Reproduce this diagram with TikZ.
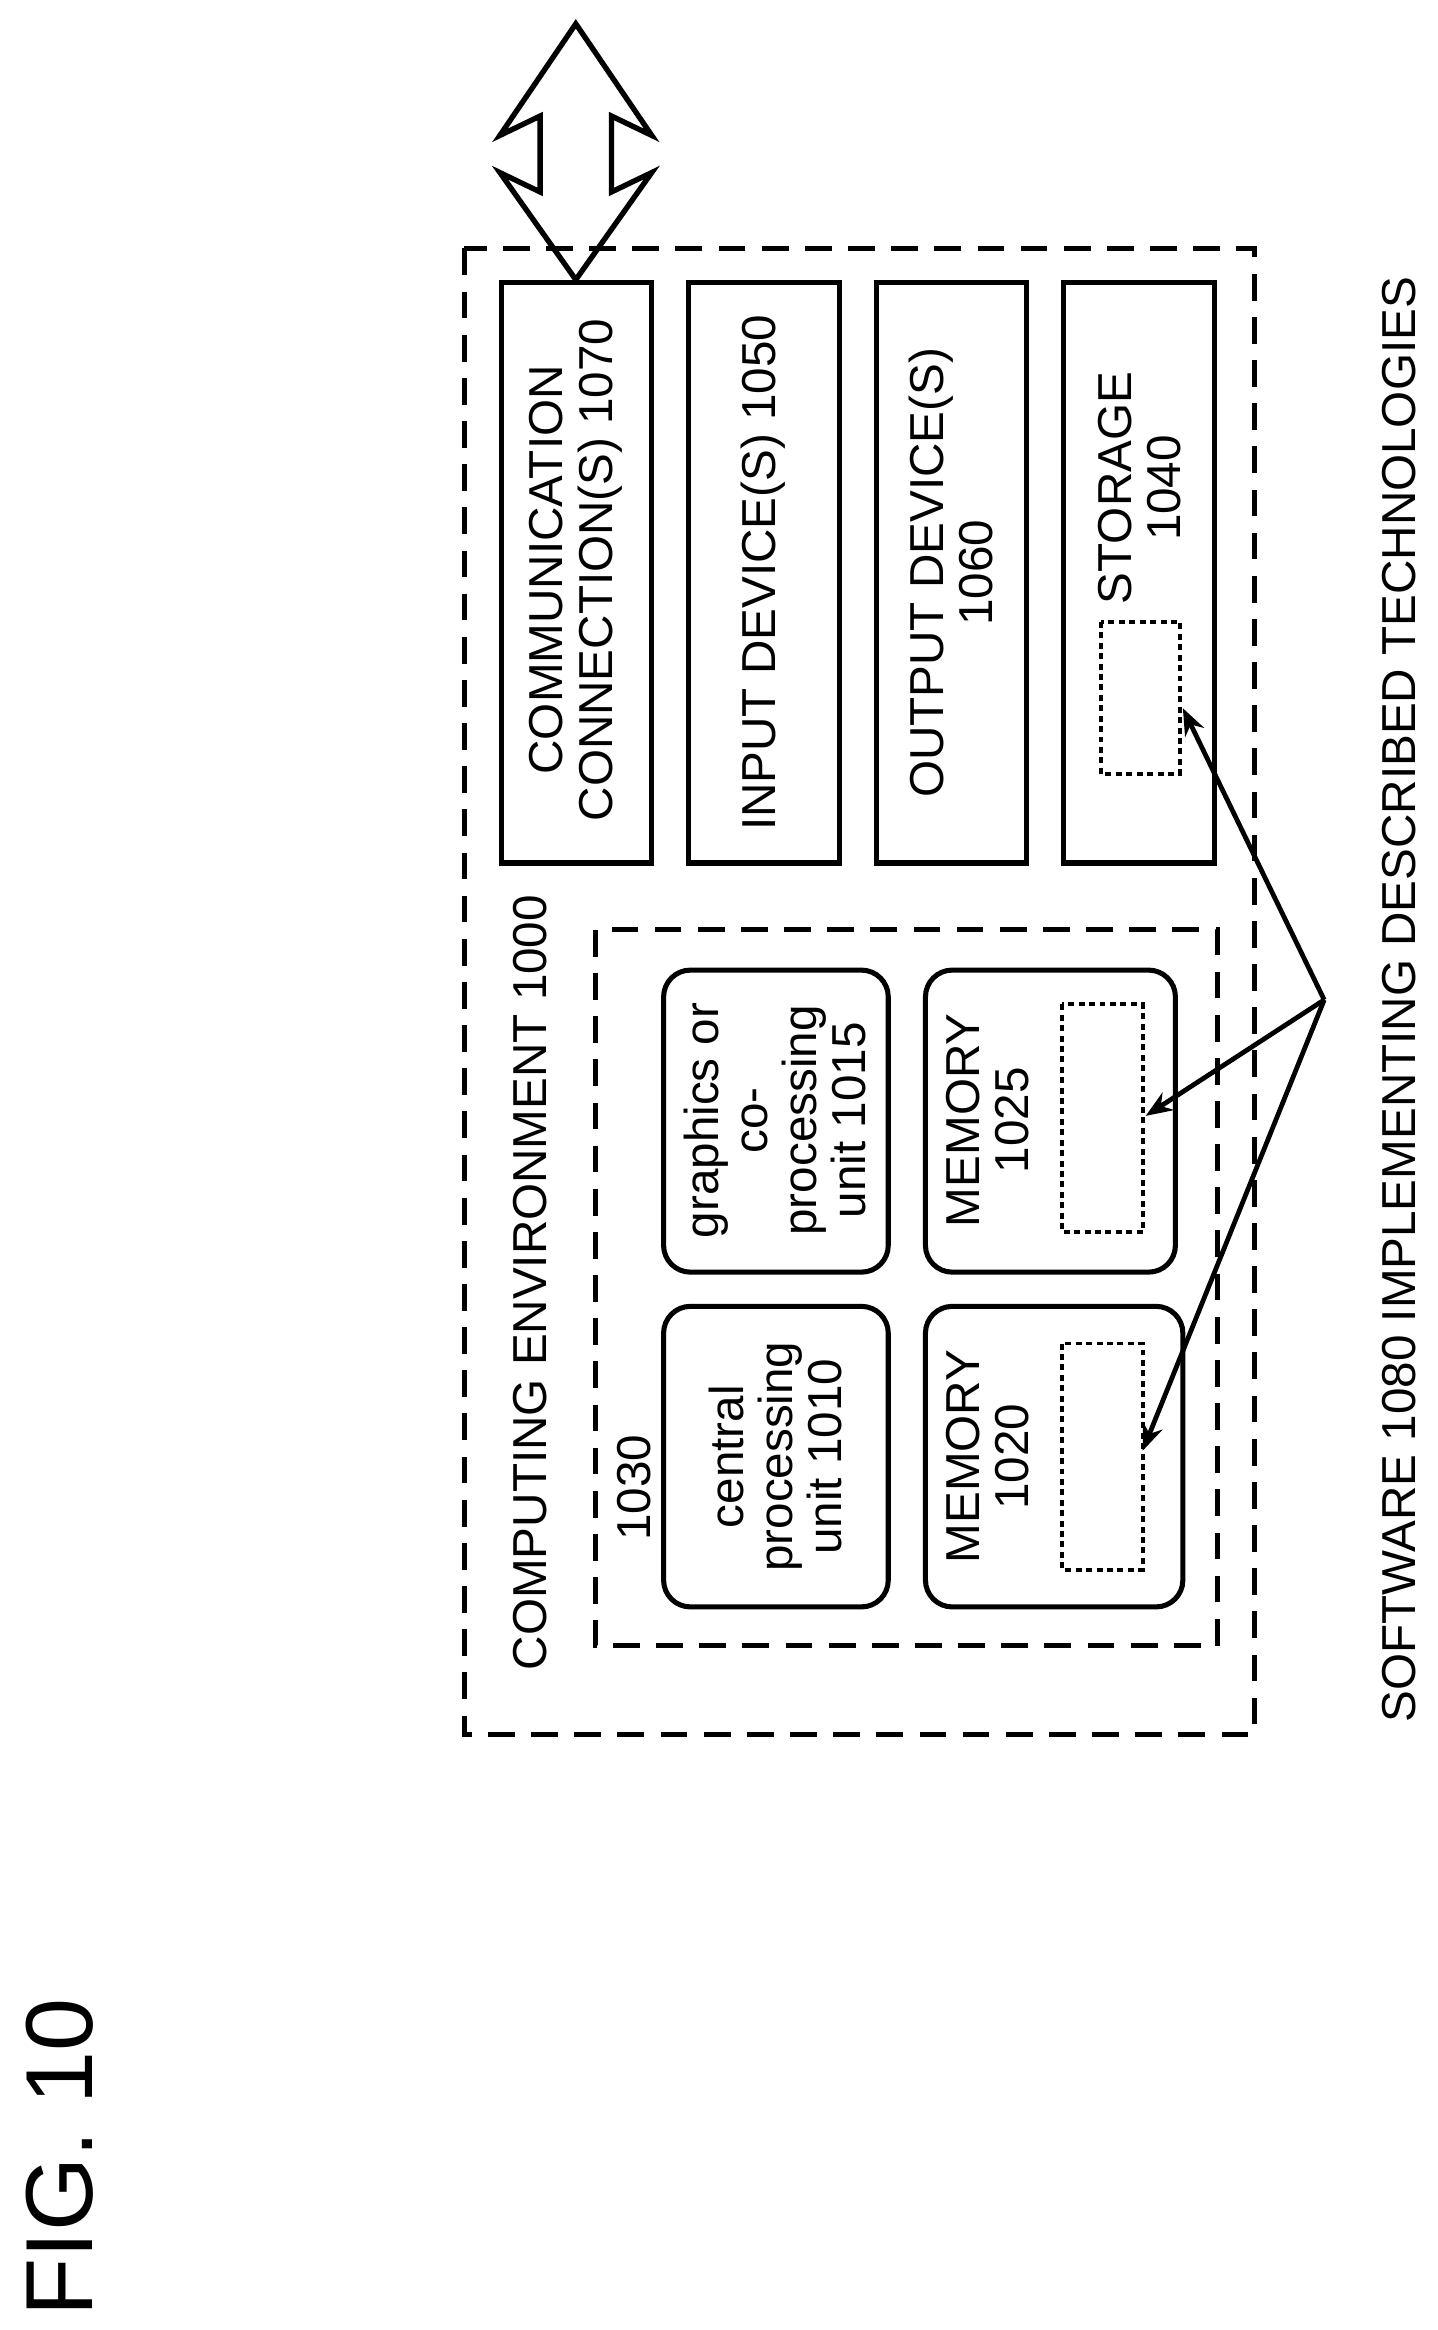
\documentclass[tikz,border=0pt]{standalone}
\usepackage{fontspec}
\setmainfont{Liberation Sans}
\usetikzlibrary{arrows.meta}
\tikzset{
  dashbox/.style={line width=3.4pt, dash pattern=on 18pt off 11pt},
  dotbox/.style={line width=2.6pt, dash pattern=on 4pt off 3pt},
  solidbox/.style={line width=3.4pt},
  roundbox/.style={line width=3.4pt, rounded corners=18pt},
  label/.style={rotate=90, align=center, font=\fontsize{32}{33}\selectfont},
  pointer/.style={line width=3.2pt, -{Stealth[length=18pt,width=14pt]}}
}
\begin{document}
\begin{tikzpicture}[x=1pt,y=-1pt]
    \useasboundingbox (0,0) rectangle (966,1566);

    %environment
    \draw[dashbox] (312,167) rectangle (843,1166);
    \node[label] (env) at (356,862) {COMPUTING ENVIRONMENT 1000};
    \draw[dashbox] (400,625) rectangle (818,1106);
    \node[label] (bus) at (426,1000) {1030};

    %processing units and memory
    \draw[roundbox] (446,878) rectangle (597,1080);
    \node[label] (cpu) at (521,979) {central\\processing\\unit 1010};
    \draw[roundbox] (446,652) rectangle (597,855);
    \node[label] (gpu) at (521,753) {graphics or\\co-\\processing\\unit 1015};
    \draw[roundbox] (622,878) rectangle (795,1080);
    \node[label] (memA) at (664,979) {MEMORY\\1020};
    \draw[dotbox] (714,903) rectangle (768,1055);
    \coordinate (swA) at (768,975);
    \draw[roundbox] (622,652) rectangle (790,855);
    \node[label] (memB) at (664,753) {MEMORY\\1025};
    \draw[dotbox] (714,675) rectangle (768,828);
    \coordinate (swB) at (770,750);

    %devices
    \draw[solidbox] (337,190) rectangle (438,580);
    \node[label] (comm) at (387,383) {COMMUNICATION\\CONNECTION(S) 1070};
    \draw[solidbox] (463,190) rectangle (564,580);
    \node[label] (input) at (513,385) {INPUT DEVICE(S) 1050};
    \draw[solidbox] (589,190) rectangle (690,580);
    \node[label] (output) at (639,385) {OUTPUT DEVICE(S)\\1060};
    \draw[solidbox] (715,190) rectangle (816,580);
    \node[label] (store) at (766,328) {STORAGE\\1040};
    \draw[dotbox] (740,418) rectangle (793,520);
    \coordinate (swS) at (795,476);

    %network arrow
    \draw[line width=3.6pt, line join=miter] (387,16) -- (438,91) -- (411,78) -- (411,129) -- (438,116)
        -- (387,188) -- (336,116) -- (363,129) -- (363,78) -- (336,91) -- cycle;

    %software pointers
    \coordinate (sw) at (890,672);
    \draw[pointer] (sw) -- (swS);
    \draw[pointer] (sw) -- (swB);
    \draw[pointer] (sw) -- (swA);
    \node[label] (soft) at (940,672) {SOFTWARE 1080 IMPLEMENTING DESCRIBED TECHNOLOGIES};

    \node[rotate=90, font=\fontsize{64}{70}\selectfont] (fig) at (40,1450) {FIG. 10};
\end{tikzpicture}
\end{document}
